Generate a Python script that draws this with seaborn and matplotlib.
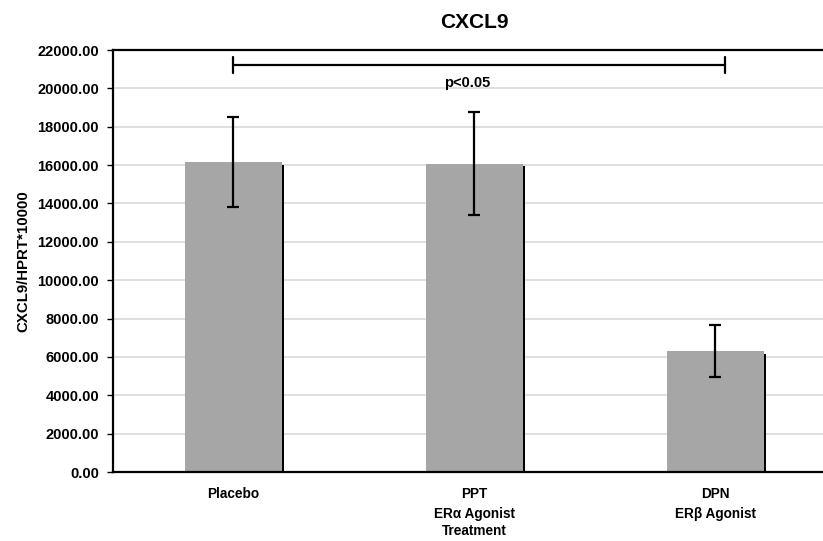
import matplotlib
matplotlib.use("Agg")
import matplotlib.pyplot as plt
import matplotlib.patheffects as pe
import seaborn as sns
import pandas as pd
import numpy as np

categories = ["Placebo", "PPT\nERα Agonist", "DPN\nERβ Agonist"]
means = [16150, 16080, 6300]
errors = [2350, 2670, 1360]
yticks = [0, 2000, 4000, 6000, 8000, 10000, 12000, 14000, 16000, 18000, 20000, 22000]
title = "CXCL9"
ylabel = "CXCL9/HPRT*10000"
xlabel = "Treatment"
sig_text = "p<0.05"
sig_pair = (0, 2)
sig_level = 21220

sns.set_theme(style="white")
plt.rcParams['font.family'] = ['Liberation Sans', 'DejaVu Sans']
plt.rcParams.update({"text.color": "black", "axes.labelcolor": "black",
                     "xtick.color": "black", "ytick.color": "black"})

fig = plt.figure(figsize=(8.23, 5.41), dpi=100)
ax = fig.add_axes([113/823, 1-472/541, (836-113)/823, (472-50)/541])

df = pd.DataFrame({"cat": categories, "val": means})
sns.barplot(data=df, x="cat", y="val", color="#a6a6a6", width=0.4, ax=ax,
            saturation=1, errorbar=None)
for p in ax.patches:
    p.set_edgecolor("none")
    p.set_path_effects([pe.SimplePatchShadow(offset=(1.6, -1.8), shadow_rgbFace="black", alpha=1.0),
                        pe.Normal()])

x = np.arange(len(categories))
ax.errorbar(x, means, yerr=errors, fmt="none", ecolor="black", elinewidth=1.6,
            capsize=4.5, capthick=1.6, zorder=5)

ax.set_xlim(-0.5, 2.5)
ax.set_ylim(0, 22000)
ax.set_yticks(yticks)
ax.set_yticklabels([f"{v:.2f}" for v in yticks], fontsize=10.5, fontweight="bold")
ax.set_xticks(x)
ax.set_xticklabels(categories, fontsize=9.8, fontweight="bold", linespacing=1.5)
ax.tick_params(axis="x", length=0, pad=11)
ax.set_xticks([0.5, 1.5], minor=True)
ax.tick_params(axis="x", which="minor", length=3, width=1.5, color="black", direction="out")
ax.tick_params(axis="y", length=4, width=1.0, color="black", direction="out", pad=6, left=True)

ax.yaxis.grid(True, color="#d9d9d9", linewidth=1.2)
ax.set_axisbelow(True)

for s in ["left", "bottom", "top"]:
    ax.spines[s].set_visible(True)
    ax.spines[s].set_color("black")
    ax.spines[s].set_linewidth(1.6)
ax.spines["right"].set_visible(False)

ax.set_xlabel(xlabel, fontsize=9.8, fontweight="bold", labelpad=2)
ax.set_ylabel(ylabel, fontsize=10.8, fontweight="bold", labelpad=5)
ax.set_title(title, fontsize=15, fontweight="bold", pad=16)

# significance bracket
x0, x1 = sig_pair[0], sig_pair[1] + 0.04
ax.plot([x0, x1], [sig_level, sig_level], color="black", lw=1.6, clip_on=False)
ax.plot([x0, x0], [sig_level - 420, sig_level + 420], color="black", lw=1.6, clip_on=False)
ax.plot([x1, x1], [sig_level - 420, sig_level + 420], color="black", lw=1.6, clip_on=False)
ax.text(0.97, sig_level - 600, sig_text, ha="center", va="top",
        fontsize=10.5, fontweight="bold")

fig.savefig("out.png", dpi=100)
